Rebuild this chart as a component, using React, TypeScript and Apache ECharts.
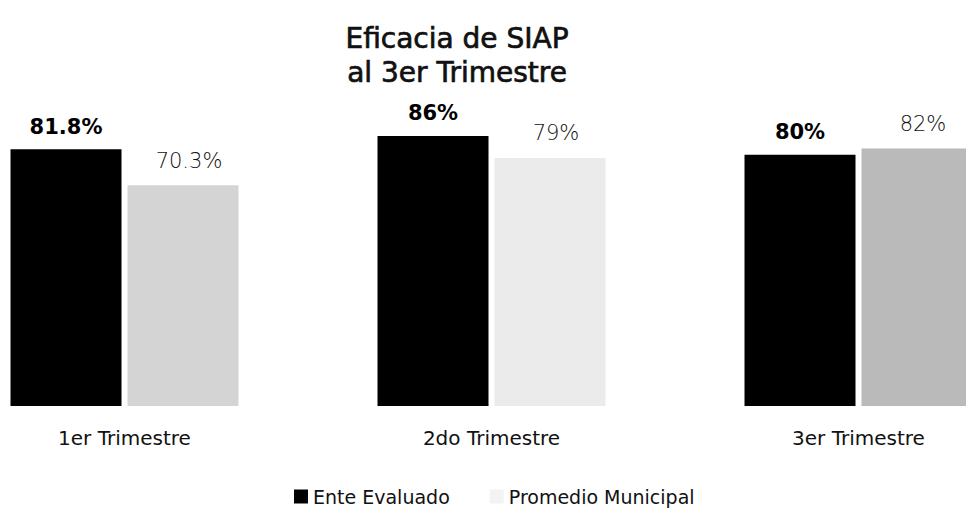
import React, { useEffect, useRef } from "react";
import * as echarts from "echarts";

const categories = ["1er Trimestre", "2do Trimestre", "3er Trimestre"];
const enteEvaluado = [81.8, 86, 80];
const promedioMunicipal = [70.3, 79, 82];
const seriesNames = ["Ente Evaluado", "Promedio Municipal"];
const titleLines = ["Eficacia de SIAP", "al 3er Trimestre"];
const greyShades = ["#d4d4d4", "#ebebeb", "#bababa"];

// The plotted area extends beyond the visible page on both sides (cropped original)
const OFFSET_LEFT = 59;
const CHART_WIDTH = 966 + 59 + 76;

export default function App() {
  const ref = useRef<HTMLDivElement>(null);
  useEffect(() => {
    if (!ref.current) return;
    const chart = echarts.init(ref.current, null, { renderer: "svg" });
    const titleStyle = {
      fontFamily: "DejaVu Sans",
      fontSize: 28,
      fontWeight: "normal",
      color: "#111111",
      textBorderColor: "#111111",
      textBorderWidth: 0.7,
    };
    chart.setOption({
      animation: false,
      backgroundColor: "#ffffff",
      title: titleLines.map((t, i) => ({
        text: t,
        left: 457 + OFFSET_LEFT,
        textAlign: "center",
        top: 24 + i * 34,
        padding: 0,
        textStyle: titleStyle,
      })),
      legend: {
        left: 289 + OFFSET_LEFT,
        top: 482,
        itemWidth: 14,
        itemHeight: 14,
        itemGap: 40,
        icon: "rect",
        textStyle: { fontFamily: "DejaVu Sans", fontSize: 19, color: "#111111" },
        data: seriesNames,
      },
      grid: { left: 0, right: 0, top: 92, bottom: 107 },
      xAxis: {
        type: "category",
        data: categories,
        axisLine: { show: false },
        axisTick: { show: false },
        axisLabel: {
          margin: 22,
          fontFamily: "DejaVu Sans",
          fontSize: 20,
          color: "#111111",
        },
      },
      yAxis: { type: "value", min: 0, max: 100, show: false, splitLine: { show: false } },
      series: [
        {
          name: seriesNames[0],
          type: "bar",
          barWidth: 111,
          barGap: "5.4%",
          itemStyle: { color: "#000000" },
          label: {
            show: true,
            position: "top",
            distance: 12,
            formatter: (p: any) => `${p.value}%`,
            fontFamily: "DejaVu Sans",
            fontWeight: "bold",
            fontSize: 21,
            color: "#000000",
          },
          data: enteEvaluado,
        },
        {
          name: seriesNames[1],
          type: "bar",
          barWidth: 111,
          barGap: "5.4%",
          itemStyle: { color: "#f3f3f3" },
          label: {
            show: true,
            position: "top",
            distance: 14,
            offset: [6, 0],
            formatter: (p: any) => `${p.value}%`,
            fontFamily: "DejaVu Sans",
            fontWeight: 200,
            fontSize: 21,
            color: "#111111",
          },
          data: promedioMunicipal.map((v, i) => ({
            value: v,
            itemStyle: { color: greyShades[i] },
          })),
        },
      ],
    });
    return () => chart.dispose();
  }, []);
  return (
    <div
      style={{
        width: 966,
        height: 513,
        position: "fixed",
        left: 0,
        top: 0,
        overflow: "hidden",
        background: "#ffffff",
      }}
    >
      <div
        ref={ref}
        style={{ width: CHART_WIDTH, height: 513, position: "absolute", left: -OFFSET_LEFT, top: 0 }}
      />
    </div>
  );
}
